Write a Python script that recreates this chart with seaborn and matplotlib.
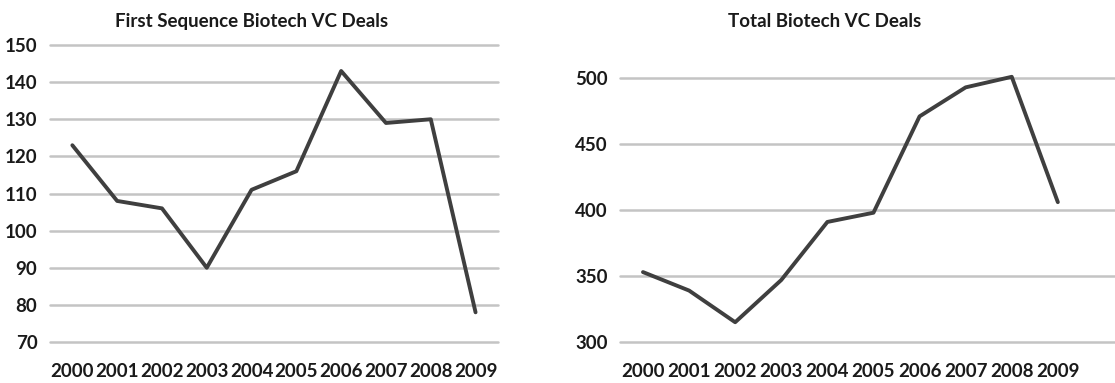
import seaborn as sns
import pandas as pd
from matplotlib import pyplot as plt

years = [2000, 2001, 2002, 2003, 2004, 2005, 2006, 2007, 2008, 2009]
first_sequence = [123, 108, 106, 90, 111, 116, 143, 129, 130, 78]
total_deals = [353, 339, 315, 347, 391, 398, 471, 493, 501, 406]

first_ticks = [70, 80, 90, 100, 110, 120, 130, 140, 150]
total_ticks = [300, 350, 400, 450, 500]

LINE_COLOR = "#3f3f3f"
GRID_COLOR = "#c4c4c4"

sns.set_style("white")
plt.rcParams["font.family"] = ["Lato", "DejaVu Sans"]

fig = plt.figure(figsize=(11.15, 3.83), dpi=100)
ax1 = fig.add_axes([0.0448, 0.107, 0.4018, 0.7755])
ax2 = fig.add_axes([0.556, 0.107, 0.444, 0.689])

df1 = pd.DataFrame({"year": years, "deals": first_sequence})
df2 = pd.DataFrame({"year": years, "deals": total_deals})


def style_panel(ax, ticks, xmax):
    ax.set_ylim(ticks[0], ticks[-1])
    ax.set_yticks(ticks)
    ax.set_xlim(years[0] - 0.5, xmax)
    ax.set_xticks(years)
    ax.set_xticklabels([str(y) for y in years])
    for t in ticks:
        ax.axhline(t, color=GRID_COLOR, lw=1.8, zorder=0, clip_on=False)
    for s in ax.spines.values():
        s.set_visible(False)
    ax.tick_params(axis="both", which="both", length=0, labelsize=13.5,
                   colors="#1a1a1a")
    ax.tick_params(axis="x", pad=15)
    ax.tick_params(axis="y", pad=9)
    for lab in ax.get_xticklabels() + ax.get_yticklabels():
        lab.set_fontweight("bold")
    ax.set_xlabel("")
    ax.set_ylabel("")


sns.lineplot(data=df1, x="year", y="deals", ax=ax1, color=LINE_COLOR,
             linewidth=2.8, clip_on=False, zorder=3)
sns.lineplot(data=df2, x="year", y="deals", ax=ax2, color=LINE_COLOR,
             linewidth=2.8, clip_on=False, zorder=3)

style_panel(ax1, first_ticks, years[-1] + 0.5)
style_panel(ax2, total_ticks, years[-1] + 1.24)

fig.text(0.226, 0.943, "First Sequence Biotech VC Deals", ha="center",
         va="center", fontsize=13.5, fontweight="bold", color="#1a1a1a")
fig.text(0.74, 0.943, "Total Biotech VC Deals", ha="center",
         va="center", fontsize=13.5, fontweight="bold", color="#1a1a1a")

plt.savefig("out.png", dpi=100)
plt.close()
